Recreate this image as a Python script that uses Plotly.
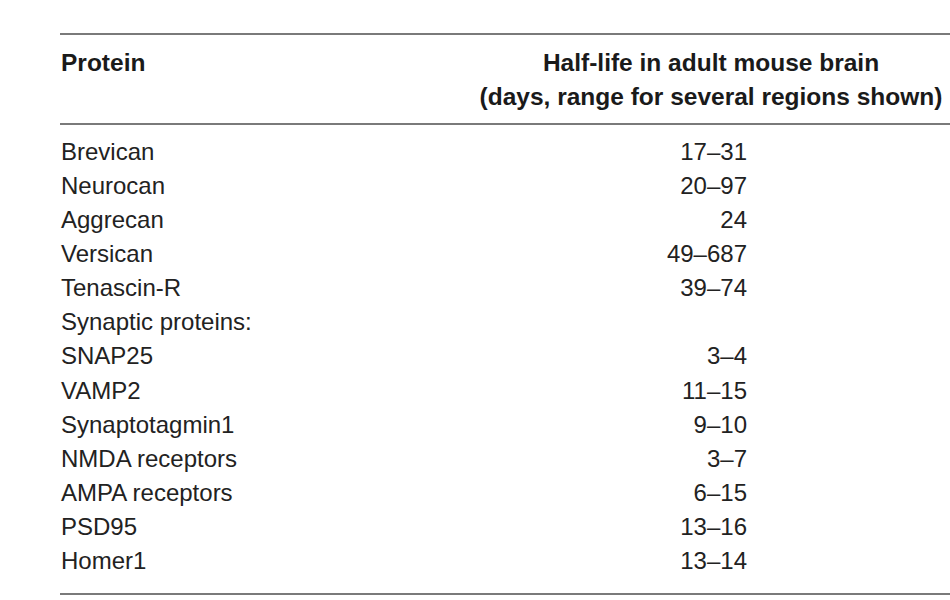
import plotly.graph_objects as go

# table content
proteins = ["Brevican", "Neurocan", "Aggrecan", "Versican", "Tenascin-R",
            "Synaptic proteins:", "SNAP25", "VAMP2", "Synaptotagmin1",
            "NMDA receptors", "AMPA receptors", "PSD95", "Homer1"]
half_lives = ["17–31", "20–97", "24", "49–687", "39–74",
              "", "3–4", "11–15", "9–10", "3–7", "6–15", "13–16", "13–14"]
header_left = "Protein"
header_right = ["Half-life in adult mouse brain",
                "(days, range for several regions shown)"]

rows = list(range(len(proteins)))

# pixel layout helpers (row 0 centre at 154 px, 34.08 px per row)
ROW0, STEP, W, H = 154, 34.08, 950, 600


def row_of(px):
    return (px - ROW0) / STEP


body_font = dict(family="Liberation Sans, Arial, sans-serif", size=24, color="#222222")
head_font = dict(family="Liberation Sans, Arial, sans-serif", size=24.5, color="#1a1a1a",
                 weight="bold")

fig = go.Figure()

fig.add_trace(go.Scatter(
    x=[61] * len(proteins), y=rows, text=proteins,
    mode="text", textposition="middle right", textfont=body_font,
    hoverinfo="skip", showlegend=False
))

fig.add_trace(go.Scatter(
    x=[747] * len(half_lives), y=rows, text=half_lives,
    mode="text", textposition="middle left", textfont=body_font,
    hoverinfo="skip", showlegend=False
))

fig.add_trace(go.Scatter(
    x=[61], y=[row_of(65)], text=[header_left],
    mode="text", textposition="middle right", textfont=head_font,
    hoverinfo="skip", showlegend=False
))

fig.add_trace(go.Scatter(
    x=[711, 711], y=[row_of(65), row_of(99)], text=header_right,
    mode="text", textposition="middle center", textfont=head_font,
    hoverinfo="skip", showlegend=False
))

# horizontal rules
for py in [34, 124, 594]:
    fig.add_shape(type="line", xref="x", yref="y",
                  x0=60, x1=W, y0=row_of(py), y1=row_of(py),
                  line=dict(color="#7a7a7a", width=2))

fig.update_layout(
    width=W, height=H,
    margin=dict(l=0, r=0, t=0, b=0),
    paper_bgcolor="white", plot_bgcolor="white",
    xaxis=dict(range=[0, W], visible=False, fixedrange=True),
    yaxis=dict(range=[row_of(H), row_of(0)], visible=False, fixedrange=True),
)

# drop the default page margin so the figure sits at the window origin
fig.write_html("out.html",
               post_script="document.body.style.margin='0';"
                           "document.body.style.overflow='hidden';",
               config={"displayModeBar": False})
